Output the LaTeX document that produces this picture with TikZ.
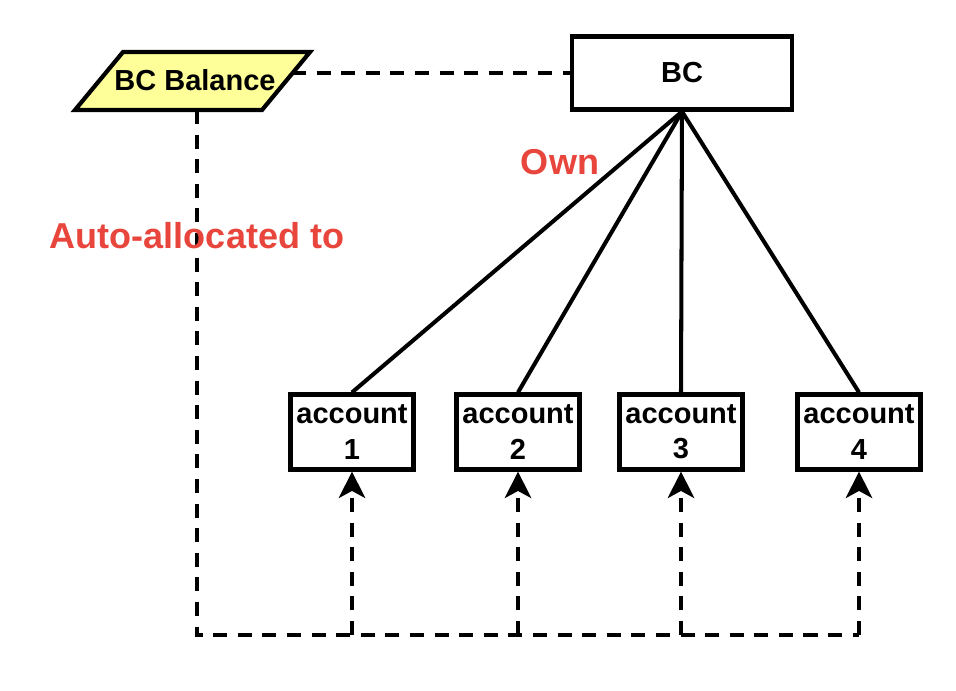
\documentclass[tikz,border=0pt]{standalone}
\usepackage{fontspec}
\setmainfont{Liberation Sans}
\usetikzlibrary{arrows.meta}
\definecolor{ownred}{HTML}{E8453C}
\definecolor{balyellow}{HTML}{FFFF99}
\begin{document}
\begin{tikzpicture}[x=0.02cm,y=-0.02cm,
  box/.style={draw,line width=2.4pt,inner sep=0pt,align=center,
    font=\bfseries\fontsize{16.5}{20}\selectfont},
  acc/.style={box,minimum width=2.46cm,minimum height=1.5cm},
  own/.style={line width=2.3pt},
  alloc/.style={line width=2.3pt,dash pattern=on 8pt off 6pt},
  redtext/.style={text=ownred,font=\bfseries\fontsize{20.5}{24}\selectfont}]
  \useasboundingbox (0,0) rectangle (956,690);
  % balance
  \coordinate (p1) at (75,110);
  \coordinate (p2) at (123,52);
  \coordinate (p3) at (310,52);
  \coordinate (p4) at (262,110);
  \filldraw[fill=balyellow,line width=2.4pt] (p1) -- (p2) -- (p3) -- (p4) -- cycle;
  \node[font=\bfseries\fontsize{16.5}{20}\selectfont] (bal) at (195,80) {BC Balance};
  \coordinate (balr) at (292,73);
  \coordinate (bals) at (197,110);
  % BC and accounts
  \node[box,minimum width=4.4cm,minimum height=1.46cm] (bc) at (682,73) {BC};
  \node[acc] (acc1) at (352,432) {account\\1};
  \node[acc] (acc2) at (518,432) {account\\2};
  \node[acc] (acc3) at (681,432) {account\\3};
  \node[acc] (acc4) at (859,432) {account\\4};
  \foreach \i in {1,...,4}
    \draw[own] (bc.south) -- (acc\i.north);
  \draw[alloc] (balr) -- (bc.west);
  % allocation
  \coordinate (corner) at (197,635);
  \draw[alloc] (bals) -- (corner) -- (acc4.south |- corner);
  \foreach \i in {1,...,4}
    \draw[alloc,-{Stealth[length=15pt,width=15pt,inset=4pt]}] (acc\i.south |- corner) -- (acc\i.south);
  \node[redtext] (ownlbl) at (560,162) {Own};
  \node[redtext] (autolbl) at (197,236) {Auto-allocated to};
\end{tikzpicture}
\end{document}
